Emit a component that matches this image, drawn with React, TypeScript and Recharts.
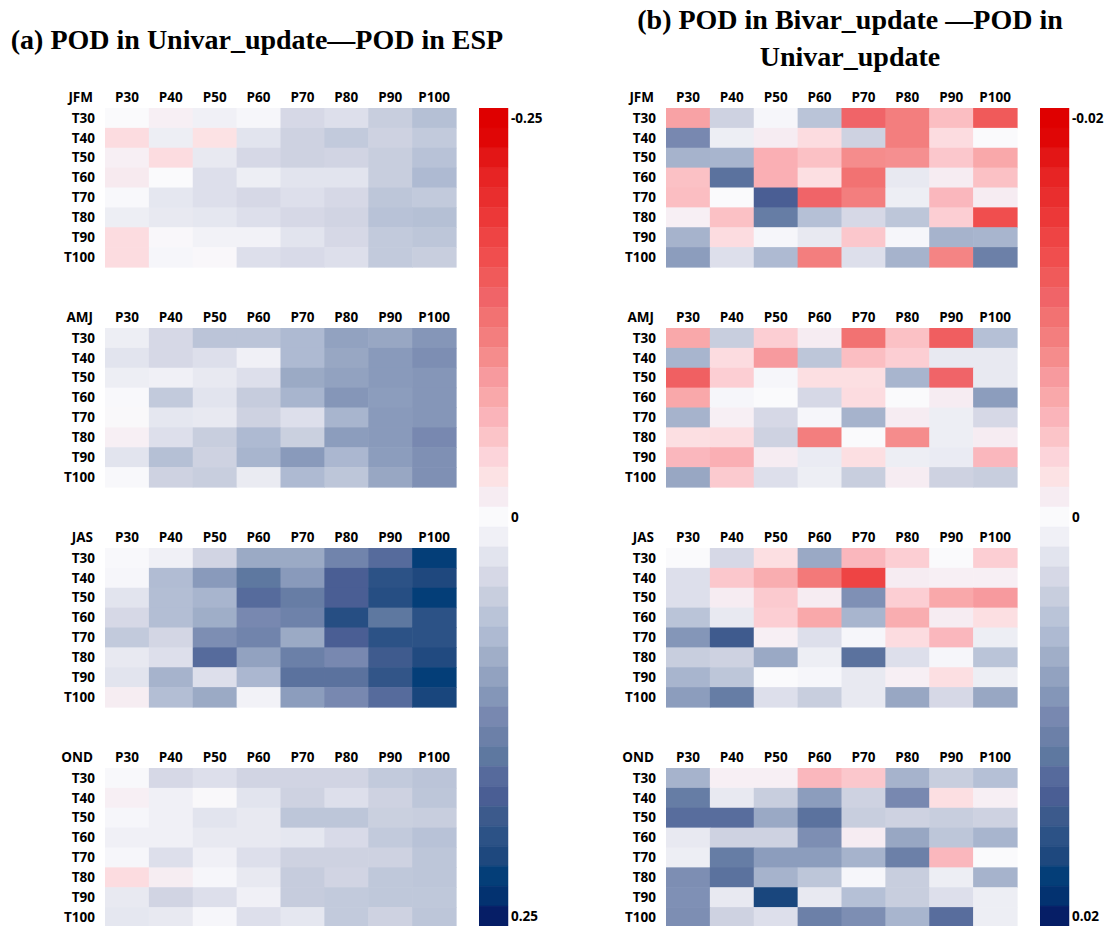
import { ScatterChart, Scatter, XAxis, YAxis, BarChart, Bar, Cell } from 'recharts';

const COLS = ['P30', 'P40', 'P50', 'P60', 'P70', 'P80', 'P90', 'P100'];
const ROWS = ['T30', 'T40', 'T50', 'T60', 'T70', 'T80', 'T90', 'T100'];
const SEASONS = ['JFM', 'AMJ', 'JAS', 'OND'];

// panel (a): POD in Univar_update - POD in ESP, scale +-0.25
const A_JFM = [
  [0.0, -0.01, 0.012, 0.005, 0.037, 0.03, 0.05, 0.068],
  [-0.03, 0.015, -0.025, 0.025, 0.045, 0.055, 0.045, 0.055],
  [-0.01, -0.03, 0.02, 0.037, 0.045, 0.042, 0.05, 0.065],
  [-0.015, 0.0, 0.03, 0.015, 0.025, 0.025, 0.05, 0.075],
  [0.002, 0.022, 0.03, 0.037, 0.03, 0.037, 0.06, 0.055],
  [0.015, 0.02, 0.022, 0.03, 0.037, 0.042, 0.065, 0.068],
  [-0.03, -0.003, 0.01, 0.01, 0.025, 0.037, 0.055, 0.06],
  [-0.03, 0.005, -0.003, 0.03, 0.035, 0.03, 0.055, 0.05],
];
const A_AMJ = [
  [0.015, 0.037, 0.062, 0.062, 0.075, 0.1, 0.095, 0.112],
  [0.025, 0.037, 0.03, 0.012, 0.075, 0.095, 0.108, 0.12],
  [0.015, 0.012, 0.02, 0.03, 0.092, 0.1, 0.108, 0.112],
  [0.002, 0.055, 0.025, 0.052, 0.08, 0.112, 0.105, 0.112],
  [-0.002, 0.022, 0.02, 0.045, 0.03, 0.08, 0.108, 0.112],
  [-0.01, 0.03, 0.05, 0.075, 0.048, 0.105, 0.108, 0.125],
  [0.025, 0.068, 0.045, 0.08, 0.108, 0.078, 0.105, 0.118],
  [0.002, 0.045, 0.05, 0.018, 0.075, 0.06, 0.095, 0.118],
];
const A_JAS = [
  [0.002, 0.012, 0.042, 0.092, 0.092, 0.132, 0.162, 0.225],
  [0.005, 0.072, 0.108, 0.15, 0.108, 0.175, 0.2, 0.212],
  [0.025, 0.07, 0.08, 0.162, 0.142, 0.175, 0.205, 0.225],
  [0.037, 0.07, 0.088, 0.125, 0.135, 0.205, 0.15, 0.2],
  [0.055, 0.04, 0.12, 0.132, 0.092, 0.175, 0.2, 0.2],
  [0.02, 0.03, 0.162, 0.1, 0.138, 0.125, 0.185, 0.21],
  [0.025, 0.082, 0.03, 0.078, 0.155, 0.155, 0.195, 0.225],
  [-0.012, 0.07, 0.092, 0.01, 0.105, 0.125, 0.162, 0.215],
];
const A_OND = [
  [0.002, 0.037, 0.03, 0.042, 0.042, 0.042, 0.055, 0.062],
  [-0.01, 0.012, -0.002, 0.025, 0.045, 0.03, 0.045, 0.06],
  [0.005, 0.012, 0.025, 0.02, 0.06, 0.06, 0.048, 0.05],
  [0.012, 0.012, 0.02, 0.02, 0.022, 0.035, 0.055, 0.065],
  [0.005, 0.03, 0.012, 0.03, 0.045, 0.045, 0.045, 0.06],
  [-0.03, -0.012, 0.005, 0.02, 0.052, 0.042, 0.058, 0.06],
  [0.02, 0.042, 0.03, 0.012, 0.052, 0.055, 0.058, 0.058],
  [0.022, 0.02, 0.005, 0.03, 0.022, 0.055, 0.045, 0.06],
];

// panel (b): POD in Bivar_update - POD in Univar_update, scale +-0.02
const B_JFM = [
  [-0.0064, 0.0036, 0.0004, 0.005, -0.011, -0.009, -0.0044, -0.012],
  [0.01, 0.0012, -0.001, -0.0024, 0.0036, -0.009, -0.0024, 0.0],
  [0.0066, 0.0064, -0.0054, -0.0042, -0.008, -0.0078, -0.0038, -0.006],
  [-0.0042, 0.0124, -0.0054, -0.0022, -0.01, 0.0016, -0.001, -0.0042],
  [-0.0044, 0.0, 0.014, -0.011, -0.009, 0.0012, -0.0048, -0.001],
  [-0.0008, -0.0042, 0.0114, 0.0054, 0.003, 0.0048, -0.0034, -0.013],
  [0.0066, -0.0024, 0.0004, 0.0016, -0.0038, 0.0004, 0.0066, 0.0064],
  [0.0084, 0.0024, 0.006, -0.009, 0.0024, 0.0066, -0.0086, 0.011],
];
const B_AMJ = [
  [-0.006, 0.004, -0.0034, -0.001, -0.01, -0.0042, -0.0116, 0.0054],
  [0.0064, -0.0024, -0.007, 0.0048, -0.0044, -0.0034, 0.0016, 0.0016],
  [-0.0114, -0.0034, 0.0004, -0.0022, -0.0022, 0.0064, -0.011, 0.0016],
  [-0.006, 0.0004, 0.0, 0.003, -0.0024, 0.0, -0.001, 0.0084],
  [0.0066, -0.0008, 0.003, 0.0004, 0.0066, -0.001, 0.0012, 0.003],
  [-0.0022, -0.0024, 0.0036, -0.009, 0.0, -0.008, 0.0012, -0.001],
  [-0.0048, -0.0054, -0.001, 0.0014, -0.0022, 0.0012, 0.0014, -0.0048],
  [0.0076, -0.0036, 0.0024, 0.0012, 0.004, -0.001, 0.0036, 0.004],
];
const B_JAS = [
  [0.0, 0.003, -0.0022, 0.0074, -0.0048, -0.0034, 0.0, -0.0034],
  [0.0024, -0.0038, -0.0056, -0.0094, -0.014, -0.001, -0.0008, -0.0008],
  [0.0024, -0.001, -0.0036, -0.001, 0.0094, -0.0034, -0.006, -0.007],
  [0.005, 0.0016, -0.0034, -0.006, 0.0064, -0.0056, -0.001, -0.0022],
  [0.009, 0.0148, -0.0008, 0.0024, 0.0004, -0.0024, -0.0048, 0.0012],
  [0.004, 0.0036, 0.0074, 0.0012, 0.0124, 0.0024, 0.0004, 0.005],
  [0.0064, 0.0048, 0.0, 0.0004, 0.0016, -0.0008, -0.0022, 0.0012],
  [0.0084, 0.0114, 0.0024, 0.004, 0.0016, 0.0076, 0.003, 0.0076],
];
const B_OND = [
  [0.0066, -0.0008, -0.0008, -0.0048, -0.0038, 0.0066, 0.004, 0.0054],
  [0.0114, 0.0016, 0.004, 0.0084, 0.0036, 0.01, -0.0022, -0.0008],
  [0.0128, 0.0128, 0.0074, 0.0124, 0.004, 0.0036, 0.004, 0.0036],
  [0.0016, 0.0036, 0.0036, 0.0096, -0.001, 0.0076, 0.0048, 0.0064],
  [0.0012, 0.0114, 0.0084, 0.0084, 0.0066, 0.011, -0.0048, 0.0],
  [0.0096, 0.0124, 0.0066, 0.0048, 0.0004, 0.004, 0.0012, 0.0066],
  [0.0094, 0.0016, 0.0172, 0.0016, 0.0054, 0.004, 0.0024, 0.0012],
  [0.0096, 0.0036, 0.0024, 0.011, 0.0096, 0.0064, 0.0128, 0.0012],
];

const A_MAX = 0.25;
const B_MAX = 0.02;
const A_TICKS = ['-0.25', '0', '0.25'];
const B_TICKS = ['-0.02', '0', '0.02'];

// 41 colour steps, top (-max) to bottom (+max)
const PALETTE = [
  '#df0000', '#e00606', '#e31616', '#e72424', '#e92e2e', '#ec3838', '#ee4444', '#f04e4e',
  '#f05a5a', '#f06468', '#f27272', '#f37e7e', '#f58c8c', '#f79a9e', '#f9a8aa', '#fab4ba',
  '#fbc4c8', '#fcd4da', '#fce2e4', '#f6ecf2', '#fafafc',
  '#f0f0f6', '#e2e4ee', '#d6d8e6', '#c8cede', '#bac4d8', '#aebad2', '#a0aec8', '#92a2c0',
  '#8496b8', '#7888b0', '#6c80a8', '#5e78a0', '#566a9c', '#4a5e94', '#3c5a8c', '#2c5286',
  '#1e487e', '#043e78', '#033270', '#061e66',
];

const FONT = '"Open Sans", sans-serif';
const TICK = { fill: '#000', fontSize: 13.5, fontWeight: 700, fontFamily: FONT };

const hex = (c: string) => [1, 3, 5].map(i => parseInt(c.slice(i, i + 2), 16));

function colorOf(v: number, max: number) {
  const t = Math.max(-1, Math.min(1, v / max));
  const pos = (t + 1) * 20;
  const i = Math.min(39, Math.floor(pos));
  const f = pos - i;
  const a = hex(PALETTE[i]);
  const b = hex(PALETTE[i + 1]);
  const m = a.map((x, k) => Math.round(x + (b[k] - x) * f));
  return `rgb(${m[0]},${m[1]},${m[2]})`;
}

const LABEL_W = 60;
const HEAD_H = 20;
const PLOT_W = 351;
const PLOT_H = 159;
const CW = PLOT_W / 8;
const CH = PLOT_H / 8;
const IDX = [0, 1, 2, 3, 4, 5, 6, 7];

function Heatmap({ season, grid, max, left, top }: {
  season: string; grid: number[][]; max: number; left: number; top: number;
}) {
  const data = grid.flatMap((row, r) => row.map((v, c) => ({ x: c, y: r, v })));
  return (
    <div style={{ position: 'absolute', left, top }}>
      <div style={{
        position: 'absolute', left: 0, top: 0, width: 48, textAlign: 'right',
        font: `700 13.5px ${FONT}`, lineHeight: '18px',
      }}>{season}</div>
      <ScatterChart width={LABEL_W + PLOT_W + 2} height={HEAD_H + PLOT_H + 1}
        margin={{ top: 0, right: 2, bottom: 1, left: 0 }}>
        <XAxis type="number" dataKey="x" domain={[-0.5, 7.5]} ticks={IDX} interval={0}
          orientation="top" height={HEAD_H} axisLine={false} tickLine={false}
          tickSize={0} tickMargin={6} tick={TICK} tickFormatter={(i: number) => COLS[i]} />
        <YAxis type="number" dataKey="y" domain={[-0.5, 7.5]} ticks={IDX} interval={0}
          reversed width={LABEL_W} axisLine={false} tickLine={false}
          tickSize={0} tickMargin={10} tick={TICK} tickFormatter={(i: number) => ROWS[i]} />
        <Scatter data={data} isAnimationActive={false}
          shape={(p: any) => (
            <rect x={p.cx - CW / 2} y={p.cy - CH / 2} width={CW + 0.6} height={CH + 0.6}
              fill={colorOf(p.payload.v, max)} />
          )} />
      </ScatterChart>
    </div>
  );
}

const BINS = PALETTE.map((c, i) => ({ i, one: 1 }));

function ColorBar({ labels, left, top }: { labels: string[]; left: number; top: number }) {
  return (
    <div style={{ position: 'absolute', left, top }}>
      <BarChart width={29 + 50} height={818} data={BINS} layout="vertical"
        barCategoryGap={0} margin={{ top: 0, right: 0, bottom: 0, left: 0 }}>
        <XAxis type="number" domain={[0, 1]} hide />
        <YAxis type="category" dataKey="i" orientation="right" width={50} interval={0}
          axisLine={false} tickLine={false} tickSize={0} tickMargin={3}
          tick={{ ...TICK, textAnchor: 'start' }}
          tickFormatter={(i: number) => (i === 0 ? labels[0] : i === 20 ? labels[1] : i === 40 ? labels[2] : '')} />
        <Bar dataKey="one" isAnimationActive={false}>
          {BINS.map(b => (
            <Cell key={b.i} fill={PALETTE[b.i]} stroke={PALETTE[b.i]} strokeWidth={0.5} />
          ))}
        </Bar>
      </BarChart>
    </div>
  );
}

const TITLE = {
  position: 'absolute' as const, fontFamily: '"Liberation Serif", serif', fontWeight: 700,
  fontSize: 28, textAlign: 'center' as const, whiteSpace: 'nowrap' as const,
};

export default function App() {
  const panelA = [A_JFM, A_AMJ, A_JAS, A_OND];
  const panelB = [B_JFM, B_AMJ, B_JAS, B_OND];
  return (
    <div style={{ position: 'absolute', left: 0, top: 0, width: 1106, height: 926, background: '#fff', overflow: 'hidden' }}>
      <div style={{ ...TITLE, left: 0, width: 514, top: 21, lineHeight: '38px' }}>
        (a) POD in Univar_update—POD in ESP
      </div>
      <div style={{ ...TITLE, left: 600, width: 500, top: 1, lineHeight: '37px' }}>
        (b) POD in Bivar_update —POD in<br />Univar_update
      </div>
      {SEASONS.map((s, k) => (
        <Heatmap key={'a' + s} season={s} grid={panelA[k]} max={A_MAX} left={105 - LABEL_W} top={88 + 220 * k} />
      ))}
      {SEASONS.map((s, k) => (
        <Heatmap key={'b' + s} season={s} grid={panelB[k]} max={B_MAX} left={666 - LABEL_W} top={88 + 220 * k} />
      ))}
      <ColorBar labels={A_TICKS} left={479} top={108} />
      <ColorBar labels={B_TICKS} left={1040} top={108} />
    </div>
  );
}
